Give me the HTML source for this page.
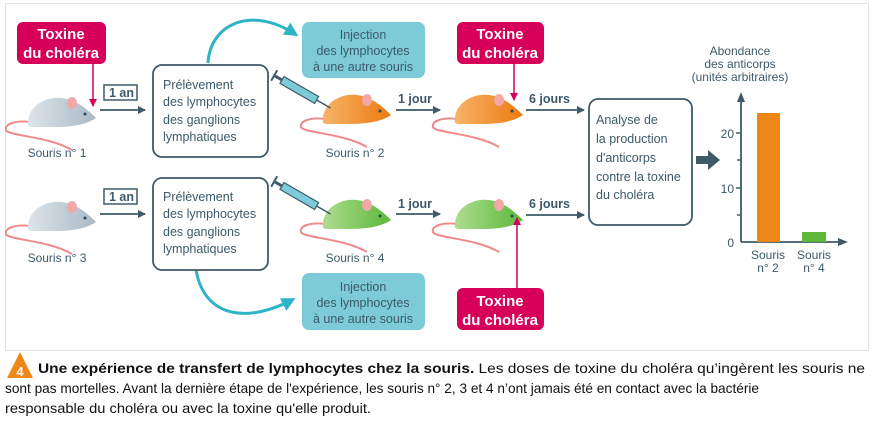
<!DOCTYPE html>
<html><head><meta charset="utf-8"><style>
html,body{margin:0;padding:0;background:#fff;width:876px;height:427px;overflow:hidden}
text{font-family:"Liberation Sans",sans-serif}
</style></head><body>
<svg width="876" height="427" viewBox="0 0 876 427" xmlns="http://www.w3.org/2000/svg">
<defs>
<linearGradient id="gg" x1="0" x2="1"><stop offset="0" stop-color="#dde4ea"/><stop offset="1" stop-color="#a9b9c6"/></linearGradient>
<linearGradient id="go" x1="0" x2="1"><stop offset="0" stop-color="#f6b36a"/><stop offset="1" stop-color="#ee7a10"/></linearGradient>
<linearGradient id="gn" x1="0" x2="1"><stop offset="0" stop-color="#aedc90"/><stop offset="1" stop-color="#5cb83a"/></linearGradient>
<marker id="ad" markerWidth="8" markerHeight="8" refX="7" refY="4" orient="auto" markerUnits="userSpaceOnUse"><path d="M0,0 L8,4 L0,8 Z" fill="#3d5a6a"/></marker>
<marker id="am" markerWidth="8" markerHeight="8" refX="7" refY="4" orient="auto" markerUnits="userSpaceOnUse"><path d="M0,0 L8,4 L0,8 Z" fill="#d6005a"/></marker>
<marker id="at" markerWidth="14" markerHeight="14" refX="10" refY="7" orient="auto" markerUnits="userSpaceOnUse"><path d="M0,0 L14,7 L0,14 Z" fill="#2fb3c8"/></marker>
<g id="tail"><path d="M2,26 C-12,24 -24,28 -22,34 C-20,40 20,40 44,54" fill="none" stroke="#f08a8a" stroke-width="2"/></g>
<g id="syr"><g transform="rotate(30)"><rect x="0" y="-4" width="40" height="8" fill="#7dcad8" stroke="#3d5a6a" stroke-width="1.2"/><rect x="-8" y="-1.5" width="8" height="3" fill="#3d5a6a"/><rect x="-10" y="-6" width="2" height="12" fill="#3d5a6a"/><line x1="40" y1="0" x2="56" y2="0" stroke="#3d5a6a" stroke-width="1.5"/></g></g>
</defs>
<rect x="5.5" y="3.5" width="863" height="347" fill="#fff" stroke="#e2e2e2"/>

<!-- mice -->
<g id="mice">
<g transform="translate(28,96)"><use href="#tail"/><path d="M0,30 C-2,10 18,0 34,2 C48,4 58,12 68,22 C58,29 42,31 28,31 L3,31 Z" fill="url(#gg)"/><ellipse cx="44" cy="7" rx="5" ry="6" fill="#f3a8a8"/><circle cx="57" cy="18" r="1.5" fill="#345"/></g>
<g transform="translate(323,93)"><use href="#tail"/><path d="M0,30 C-2,10 18,0 34,2 C48,4 58,12 68,22 C58,29 42,31 28,31 L3,31 Z" fill="url(#go)"/><ellipse cx="44" cy="7" rx="5" ry="6" fill="#f3a8a8"/><circle cx="57" cy="18" r="1.5" fill="#345"/></g>
<g transform="translate(455,93)"><use href="#tail"/><path d="M0,30 C-2,10 18,0 34,2 C48,4 58,12 68,22 C58,29 42,31 28,31 L3,31 Z" fill="url(#go)"/><ellipse cx="44" cy="7" rx="5" ry="6" fill="#f3a8a8"/><circle cx="57" cy="18" r="1.5" fill="#345"/></g>
<g transform="translate(28,200)"><use href="#tail"/><path d="M0,30 C-2,10 18,0 34,2 C48,4 58,12 68,22 C58,29 42,31 28,31 L3,31 Z" fill="url(#gg)"/><ellipse cx="44" cy="7" rx="5" ry="6" fill="#f3a8a8"/><circle cx="57" cy="18" r="1.5" fill="#345"/></g>
<g transform="translate(323,198)"><use href="#tail"/><path d="M0,30 C-2,10 18,0 34,2 C48,4 58,12 68,22 C58,29 42,31 28,31 L3,31 Z" fill="url(#gn)"/><ellipse cx="44" cy="7" rx="5" ry="6" fill="#f3a8a8"/><circle cx="57" cy="18" r="1.5" fill="#345"/></g>
<g transform="translate(455,198)"><use href="#tail"/><path d="M0,30 C-2,10 18,0 34,2 C48,4 58,12 68,22 C58,29 42,31 28,31 L3,31 Z" fill="url(#gn)"/><ellipse cx="44" cy="7" rx="5" ry="6" fill="#f3a8a8"/><circle cx="57" cy="18" r="1.5" fill="#345"/></g>
</g>
<use href="#syr" transform="translate(282,80)"/>
<use href="#syr" transform="translate(282,186)"/>

<g font-size="12" fill="#3d5a6a" text-anchor="middle">
<text x="57" y="157">Souris n° 1</text>
<text x="355" y="157">Souris n° 2</text>
<text x="57" y="262">Souris n° 3</text>
<text x="355" y="262">Souris n° 4</text>
</g>

<!-- toxine boxes -->
<g font-size="15" font-weight="bold" fill="#fff" text-anchor="middle">
<rect x="17" y="22" width="89" height="42" rx="6" fill="#d6005a"/><text x="61" y="39">Toxine</text><text x="61" y="58">du choléra</text>
<rect x="457" y="22" width="87" height="42" rx="6" fill="#d6005a"/><text x="500" y="39">Toxine</text><text x="500" y="58">du choléra</text>
<rect x="457" y="288" width="87" height="42" rx="6" fill="#d6005a"/><text x="500" y="306">Toxine</text><text x="500" y="325">du choléra</text>
</g>
<g stroke="#d6005a" stroke-width="1.5">
<line x1="93" y1="64" x2="93" y2="106" marker-end="url(#am)"/>
<line x1="514" y1="64" x2="514" y2="100" marker-end="url(#am)"/>
<line x1="517" y1="288" x2="517" y2="218" marker-end="url(#am)"/>
</g>

<!-- injection boxes -->
<g font-size="12.5" fill="#3d5a6a" text-anchor="middle">
<rect x="302" y="22" width="123" height="56" rx="7" fill="#7dcad8"/><text x="363" y="39">Injection</text><text x="363" y="55">des lymphocytes</text><text x="363" y="71">à une autre souris</text>
<rect x="302" y="273" width="123" height="57" rx="7" fill="#7dcad8"/><text x="363" y="291">Injection</text><text x="363" y="307">des lymphocytes</text><text x="363" y="323">à une autre souris</text>
</g>
<path d="M208,63 C210,25 250,5 295,34" fill="none" stroke="#2fb3c8" stroke-width="3" marker-end="url(#at)"/>
<path d="M196,270 C205,320 250,322 292,300" fill="none" stroke="#2fb3c8" stroke-width="3" marker-end="url(#at)"/>

<!-- prelevement -->
<g font-size="12.5" fill="#3d5a6a">
<rect x="153" y="65" width="115" height="92" rx="9" fill="#fff" stroke="#3d5a6a" stroke-width="1.8"/>
<text x="163" y="89">Prélèvement</text><text x="163" y="106">des lymphocytes</text><text x="163" y="124">des ganglions</text><text x="163" y="141">lymphatiques</text>
<rect x="153" y="178" width="115" height="92" rx="9" fill="#fff" stroke="#3d5a6a" stroke-width="1.8"/>
<text x="163" y="201">Prélèvement</text><text x="163" y="218">des lymphocytes</text><text x="163" y="236">des ganglions</text><text x="163" y="253">lymphatiques</text>
<rect x="589" y="99" width="103" height="126" rx="9" fill="#fff" stroke="#3d5a6a" stroke-width="1.8"/>
<text x="596" y="124">Analyse de</text><text x="596" y="143">la production</text><text x="596" y="162">d'anticorps</text><text x="596" y="181">contre la toxine</text><text x="596" y="199">du choléra</text>
</g>

<!-- time arrows -->
<g font-size="12.5" font-weight="bold" fill="#3d5a6a">
<rect x="104" y="85" width="33" height="15" fill="#fff" stroke="#3d5a6a" stroke-width="1.5"/><text x="109" y="97">1 an</text>
<rect x="104" y="189" width="33" height="15" fill="#fff" stroke="#3d5a6a" stroke-width="1.5"/><text x="109" y="201">1 an</text>
<text x="398" y="103">1 jour</text><text x="398" y="208">1 jour</text>
<text x="529" y="103">6 jours</text><text x="529" y="208">6 jours</text>
</g>
<g stroke="#3d5a6a" stroke-width="1.8">
<line x1="100" y1="110" x2="145" y2="110" marker-end="url(#ad)"/>
<line x1="100" y1="214" x2="145" y2="214" marker-end="url(#ad)"/>
<line x1="396" y1="110" x2="440" y2="110" marker-end="url(#ad)"/>
<line x1="396" y1="214" x2="440" y2="214" marker-end="url(#ad)"/>
<line x1="526" y1="110" x2="584" y2="110" marker-end="url(#ad)"/>
<line x1="526" y1="215" x2="584" y2="215" marker-end="url(#ad)"/>
</g>
<path d="M696,156 h12 v-6 l12,10 l-12,10 v-6 h-12 Z" fill="#3d5a6a"/>

<!-- chart -->
<g font-size="12" fill="#3d5a6a" text-anchor="middle">
<text x="740" y="55">Abondance</text><text x="740" y="68">des anticorps</text><text x="740" y="81">(unités arbitraires)</text>
</g>
<line x1="741" y1="242" x2="741" y2="100" stroke="#3d5a6a" stroke-width="1.8"/>
<path d="M741,92 L745,102 L737,102 Z" fill="#3d5a6a"/>
<line x1="741" y1="242" x2="842" y2="242" stroke="#3d5a6a" stroke-width="1.8"/>
<path d="M848,242 L838,238 L838,246 Z" fill="#3d5a6a"/>
<g stroke="#3d5a6a" stroke-width="1.5"><line x1="736" y1="133" x2="741" y2="133"/><line x1="737" y1="160" x2="741" y2="160"/><line x1="736" y1="188" x2="741" y2="188"/><line x1="737" y1="215" x2="741" y2="215"/></g>
<g font-size="12" fill="#3d5a6a" text-anchor="end"><text x="734" y="138">20</text><text x="734" y="193">10</text><text x="734" y="247">0</text></g>
<rect x="757" y="113" width="23" height="129" fill="#ef8718"/>
<rect x="802" y="232" width="24" height="10" fill="#5fb83a"/>
<g font-size="12" fill="#3d5a6a" text-anchor="middle"><text x="768" y="259">Souris</text><text x="768" y="272">n° 2</text><text x="814" y="259">Souris</text><text x="814" y="272">n° 4</text></g>

<!-- caption -->
<path d="M7,378 L20,352 L33,378 Z" fill="#ef8718"/>
<text x="20" y="376" font-size="13" font-weight="bold" fill="#fff" text-anchor="middle">4</text>
<text x="38" y="373" font-size="14" fill="#111" textLength="827" lengthAdjust="spacingAndGlyphs"><tspan font-weight="bold">Une expérience de transfert de lymphocytes chez la souris.</tspan> Les doses de toxine du choléra qu’ingèrent les souris ne</text>
<text x="5" y="393" font-size="14" fill="#111" textLength="754" lengthAdjust="spacingAndGlyphs">sont pas mortelles. Avant la dernière étape de l'expérience, les souris n° 2, 3 et 4 n’ont jamais été en contact avec la bactérie</text>
<text x="5" y="413" font-size="14" fill="#111" textLength="366" lengthAdjust="spacingAndGlyphs">responsable du choléra ou avec la toxine qu'elle produit.</text>
</svg>
</body></html>
